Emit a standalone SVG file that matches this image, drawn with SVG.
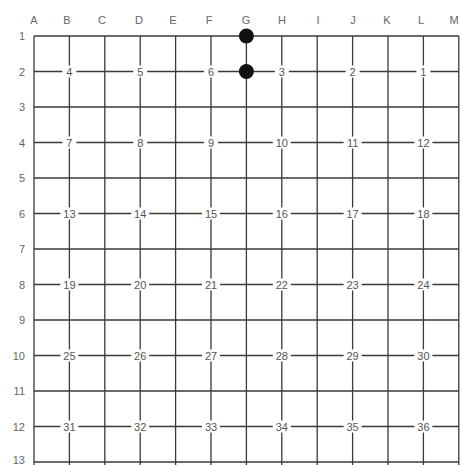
<svg xmlns="http://www.w3.org/2000/svg" width="462" height="465" viewBox="0 0 462 465">
<style>
.g{stroke:#3a3a3a;stroke-width:1.3;fill:none}
.lab{font-family:"Liberation Sans",Arial,sans-serif;font-size:11px;fill:#666;text-anchor:middle}
.rl{font-family:"Liberation Sans",Arial,sans-serif;font-size:11px;fill:#666;text-anchor:end}
.num{font-family:"Liberation Sans",Arial,sans-serif;font-size:11px;fill:#555;text-anchor:middle}
.bg{fill:#fff}
.stone{fill:#111}
</style>
<rect width="462" height="465" fill="#fff"/>
<g id="connectors">
<path class="g" d="M34,36V470M69.4,36V470M104.8,36V470M140.2,36V470M175.6,36V470M211,36V470M246.4,36V470M281.8,36V470M317.2,36V470M352.6,36V470M388,36V470M423.4,36V470M458.8,36V470"/>
<path class="g" d="M34,36H458.8M34,71.5H458.8M34,107H458.8M34,142.5H458.8M34,178H458.8M34,213.5H458.8M34,249H458.8M34,284.5H458.8M34,320H458.8M34,355.5H458.8M34,391H458.8M34,426.5H458.8M34,462H458.8"/>
</g>
<g id="col-labels">
<text class="lab" x="34" y="24">A</text><text class="lab" x="67" y="24">B</text><text class="lab" x="102" y="24">C</text><text class="lab" x="139" y="24">D</text><text class="lab" x="173" y="24">E</text><text class="lab" x="209" y="24">F</text><text class="lab" x="246" y="24">G</text><text class="lab" x="282" y="24">H</text><text class="lab" x="318" y="24">I</text><text class="lab" x="353" y="24">J</text><text class="lab" x="387" y="24">K</text><text class="lab" x="421" y="24">L</text><text class="lab" x="454" y="24">M</text>
</g>
<g id="row-labels">
<text class="rl" x="25" y="40">1</text><text class="rl" x="25" y="75.5">2</text><text class="rl" x="25" y="111">3</text><text class="rl" x="25" y="146.5">4</text><text class="rl" x="25" y="182">5</text><text class="rl" x="25" y="217.5">6</text><text class="rl" x="25" y="253">7</text><text class="rl" x="25" y="288.5">8</text><text class="rl" x="25" y="324">9</text><text class="rl" x="25" y="359.5">10</text><text class="rl" x="25" y="395">11</text><text class="rl" x="25" y="430.5">12</text><text class="rl" x="25" y="464">13</text>
</g>
<g id="stone-G1"><circle class="stone" cx="246.4" cy="36" r="7.5"/></g>
<g id="stone-G2"><circle class="stone" cx="246.4" cy="71.5" r="7.5"/></g>
<g id="pt-B2"><rect class="bg" x="62.4" y="65.5" width="14" height="12"/><text class="num" x="69.4" y="75.5">4</text></g>
<g id="pt-D2"><rect class="bg" x="133.2" y="65.5" width="14" height="12"/><text class="num" x="140.2" y="75.5">5</text></g>
<g id="pt-F2"><rect class="bg" x="204" y="65.5" width="14" height="12"/><text class="num" x="211" y="75.5">6</text></g>
<g id="pt-H2"><rect class="bg" x="274.8" y="65.5" width="14" height="12"/><text class="num" x="281.8" y="75.5">3</text></g>
<g id="pt-J2"><rect class="bg" x="345.6" y="65.5" width="14" height="12"/><text class="num" x="352.6" y="75.5">2</text></g>
<g id="pt-L2"><rect class="bg" x="416.4" y="65.5" width="14" height="12"/><text class="num" x="423.4" y="75.5">1</text></g>
<g id="pt-B4"><rect class="bg" x="62.4" y="136.5" width="14" height="12"/><text class="num" x="69.4" y="146.5">7</text></g>
<g id="pt-D4"><rect class="bg" x="133.2" y="136.5" width="14" height="12"/><text class="num" x="140.2" y="146.5">8</text></g>
<g id="pt-F4"><rect class="bg" x="204" y="136.5" width="14" height="12"/><text class="num" x="211" y="146.5">9</text></g>
<g id="pt-H4"><rect class="bg" x="272.8" y="136.5" width="18" height="12"/><text class="num" x="281.8" y="146.5">10</text></g>
<g id="pt-J4"><rect class="bg" x="343.6" y="136.5" width="18" height="12"/><text class="num" x="352.6" y="146.5">11</text></g>
<g id="pt-L4"><rect class="bg" x="414.4" y="136.5" width="18" height="12"/><text class="num" x="423.4" y="146.5">12</text></g>
<g id="pt-B6"><rect class="bg" x="60.4" y="207.5" width="18" height="12"/><text class="num" x="69.4" y="217.5">13</text></g>
<g id="pt-D6"><rect class="bg" x="131.2" y="207.5" width="18" height="12"/><text class="num" x="140.2" y="217.5">14</text></g>
<g id="pt-F6"><rect class="bg" x="202" y="207.5" width="18" height="12"/><text class="num" x="211" y="217.5">15</text></g>
<g id="pt-H6"><rect class="bg" x="272.8" y="207.5" width="18" height="12"/><text class="num" x="281.8" y="217.5">16</text></g>
<g id="pt-J6"><rect class="bg" x="343.6" y="207.5" width="18" height="12"/><text class="num" x="352.6" y="217.5">17</text></g>
<g id="pt-L6"><rect class="bg" x="414.4" y="207.5" width="18" height="12"/><text class="num" x="423.4" y="217.5">18</text></g>
<g id="pt-B8"><rect class="bg" x="60.4" y="278.5" width="18" height="12"/><text class="num" x="69.4" y="288.5">19</text></g>
<g id="pt-D8"><rect class="bg" x="131.2" y="278.5" width="18" height="12"/><text class="num" x="140.2" y="288.5">20</text></g>
<g id="pt-F8"><rect class="bg" x="202" y="278.5" width="18" height="12"/><text class="num" x="211" y="288.5">21</text></g>
<g id="pt-H8"><rect class="bg" x="272.8" y="278.5" width="18" height="12"/><text class="num" x="281.8" y="288.5">22</text></g>
<g id="pt-J8"><rect class="bg" x="343.6" y="278.5" width="18" height="12"/><text class="num" x="352.6" y="288.5">23</text></g>
<g id="pt-L8"><rect class="bg" x="414.4" y="278.5" width="18" height="12"/><text class="num" x="423.4" y="288.5">24</text></g>
<g id="pt-B10"><rect class="bg" x="60.4" y="349.5" width="18" height="12"/><text class="num" x="69.4" y="359.5">25</text></g>
<g id="pt-D10"><rect class="bg" x="131.2" y="349.5" width="18" height="12"/><text class="num" x="140.2" y="359.5">26</text></g>
<g id="pt-F10"><rect class="bg" x="202" y="349.5" width="18" height="12"/><text class="num" x="211" y="359.5">27</text></g>
<g id="pt-H10"><rect class="bg" x="272.8" y="349.5" width="18" height="12"/><text class="num" x="281.8" y="359.5">28</text></g>
<g id="pt-J10"><rect class="bg" x="343.6" y="349.5" width="18" height="12"/><text class="num" x="352.6" y="359.5">29</text></g>
<g id="pt-L10"><rect class="bg" x="414.4" y="349.5" width="18" height="12"/><text class="num" x="423.4" y="359.5">30</text></g>
<g id="pt-B12"><rect class="bg" x="60.4" y="420.5" width="18" height="12"/><text class="num" x="69.4" y="430.5">31</text></g>
<g id="pt-D12"><rect class="bg" x="131.2" y="420.5" width="18" height="12"/><text class="num" x="140.2" y="430.5">32</text></g>
<g id="pt-F12"><rect class="bg" x="202" y="420.5" width="18" height="12"/><text class="num" x="211" y="430.5">33</text></g>
<g id="pt-H12"><rect class="bg" x="272.8" y="420.5" width="18" height="12"/><text class="num" x="281.8" y="430.5">34</text></g>
<g id="pt-J12"><rect class="bg" x="343.6" y="420.5" width="18" height="12"/><text class="num" x="352.6" y="430.5">35</text></g>
<g id="pt-L12"><rect class="bg" x="414.4" y="420.5" width="18" height="12"/><text class="num" x="423.4" y="430.5">36</text></g>
</svg>
